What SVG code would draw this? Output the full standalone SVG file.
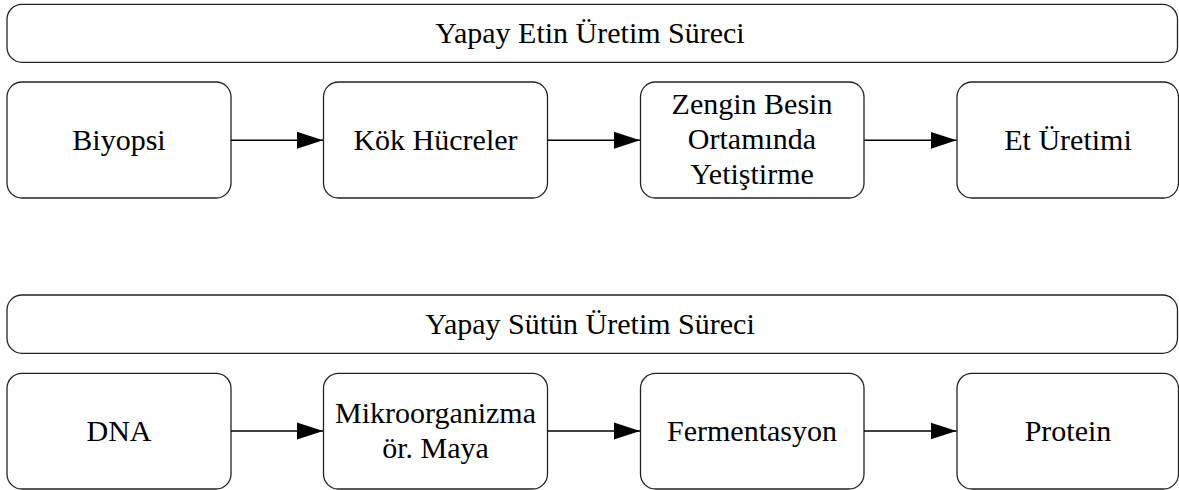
<svg xmlns="http://www.w3.org/2000/svg" width="1179" height="490" viewBox="0 0 1179 490">
  <defs>
    <marker id="arrow" markerUnits="userSpaceOnUse" markerWidth="26" markerHeight="18" refX="26" refY="9" orient="auto">
      <path d="M0,0.5 L26,9 L0,17.5 Z" fill="#000"/>
    </marker>
  </defs>
  <style>
    .box { fill: #fff; stroke: #222; stroke-width: 1.3; }
    .lbl { font-family: 'Liberation Serif', 'Times New Roman', serif; font-size: 30px; fill: #000; text-anchor: middle; }
    .edge { stroke: #000; stroke-width: 1.6; fill: none; marker-end: url(#arrow); }
  </style>
  <rect width="1179" height="490" fill="#fff"/>

  <!-- cultured meat process -->
  <g id="meat-title">
    <rect class="box" x="7" y="4.3" width="1170.5" height="58" rx="15"/>
    <text class="lbl" x="590" y="43">Yapay Etin Üretim Süreci</text>
  </g>
  <g id="biyopsi">
    <rect class="box" x="7" y="82" width="224" height="116" rx="15"/>
    <text class="lbl" x="119" y="149.5">Biyopsi</text>
  </g>
  <g id="kok-hucreler">
    <rect class="box" x="323.5" y="82" width="224" height="116" rx="15"/>
    <text class="lbl" x="435.5" y="149.5">Kök Hücreler</text>
  </g>
  <g id="besin-ortami">
    <rect class="box" x="640.5" y="82" width="223.5" height="116" rx="15"/>
    <text class="lbl" x="752" y="114">Zengin Besin</text>
    <text class="lbl" x="752" y="149">Ortamında</text>
    <text class="lbl" x="752" y="184">Yetiştirme</text>
  </g>
  <g id="et-uretimi">
    <rect class="box" x="957" y="82" width="221.5" height="116" rx="15"/>
    <text class="lbl" x="1068" y="149.5">Et Üretimi</text>
  </g>

  <!-- cultured milk process -->
  <g id="milk-title">
    <rect class="box" x="7" y="295" width="1170.5" height="58.3" rx="15"/>
    <text class="lbl" x="590" y="334">Yapay Sütün Üretim Süreci</text>
  </g>
  <g id="dna">
    <rect class="box" x="7" y="373.3" width="224" height="115.7" rx="15"/>
    <text class="lbl" x="119" y="440.5">DNA</text>
  </g>
  <g id="mikroorganizma">
    <rect class="box" x="323.5" y="373.3" width="224" height="115.7" rx="15"/>
    <text class="lbl" x="435.5" y="423">Mikroorganizma</text>
    <text class="lbl" x="435.5" y="458">ör. Maya</text>
  </g>
  <g id="fermentasyon">
    <rect class="box" x="640.5" y="373.3" width="223.5" height="115.7" rx="15"/>
    <text class="lbl" x="752" y="440.5">Fermentasyon</text>
  </g>
  <g id="protein">
    <rect class="box" x="957" y="373.3" width="221.5" height="115.7" rx="15"/>
    <text class="lbl" x="1068" y="440.5">Protein</text>
  </g>

  <g id="connectors">
    <line class="edge" x1="231" y1="140.3" x2="323" y2="140.3"/>
    <line class="edge" x1="547.5" y1="140.3" x2="640" y2="140.3"/>
    <line class="edge" x1="864" y1="140.3" x2="956.5" y2="140.3"/>
    <line class="edge" x1="231" y1="431" x2="323" y2="431"/>
    <line class="edge" x1="547.5" y1="431" x2="640" y2="431"/>
    <line class="edge" x1="864" y1="431" x2="956.5" y2="431"/>
  </g>
</svg>
